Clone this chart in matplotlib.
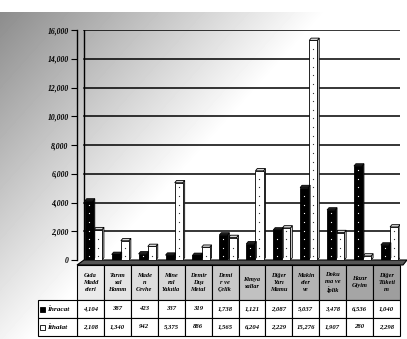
import numpy as np
import matplotlib.pyplot as plt
from matplotlib.patches import Rectangle, Polygon

# ── data ────────────────────────────────────────────────────────────────────
categories = ['Gıda\nMadd\neleri', 'Tarım\nsal\nHamm', 'Made\nn\nCevhe',
              'Mine\nral\nYakıtla', 'Demir\nDışı\nMetal', 'Demi\nr ve\nÇelik',
              'Kimya\nsallar', 'Diğer\nYarı\nMamu', 'Makin\neler\nve',
              'Doku\nma ve\nİplik', 'Hazır\nGiyim', 'Diğer\nTüketi\nm']
ihracat = [4104, 387, 423, 337, 319, 1738, 1121, 2087, 5037, 3478, 6536, 1040]
ithalat = [2108, 1340, 942, 5375, 886, 1565, 6204, 2229, 15276, 1907, 280, 2298]
series_names = ['İhracat', 'İthalat']
yticks = [0, 2000, 4000, 6000, 8000, 10000, 12000, 14000, 16000]

W, H = 407, 339
FONT = 'Liberation Serif'

fig = plt.figure(figsize=(W / 100, H / 100), dpi=100)

# ── background (pixel coords) ───────────────────────────────────────────────
bg = fig.add_axes([0, 0, 1, 1], zorder=0)
bg.set_xlim(0, W)
bg.set_ylim(H, 0)
bg.axis('off')
yy, xx = np.mgrid[0:H, 0:W]
shade = 0.55 + 0.45 * np.clip(xx / W * 1.25 + (yy - 12) / (H - 12) * 0.9, 0, 1)
shade[yy < 12] = 1.0
bg.imshow(shade, cmap='gray', vmin=0, vmax=1, extent=(0, W, H, 0), aspect='auto')

# plot area geometry in pixels
x0, x1 = 77, 400
ybase, ytop = 260, 30

# floor strip
bg.add_patch(Polygon([(x0, ybase + 5), (x1 + 3, ybase + 5), (x1 + 7, ybase), (x0 + 7, ybase)],
                     closed=True, facecolor='#555555', edgecolor='black', lw=0.8))

# ── main axes ───────────────────────────────────────────────────────────────
ax = fig.add_axes([x0 / W, 1 - ybase / H, (x1 - x0) / W, (ybase - ytop) / H], zorder=1)
ax.set_facecolor('none')
ax.set_xlim(-0.5, len(categories) - 0.5)
ax.set_ylim(0, 16000)
for s in ['top', 'right', 'bottom']:
    ax.spines[s].set_visible(False)
ax.spines['left'].set_linewidth(1.0)
ax.set_xticks([])
ax.set_yticks(yticks)
ax.set_yticklabels([f'{v:,}' for v in yticks])
ax.tick_params(axis='y', length=4, width=0.8, labelsize=5.5, pad=2)
for lab in ax.get_yticklabels():
    lab.set_fontfamily(FONT)
    lab.set_fontweight('bold')
    lab.set_fontstyle('italic')

# back wall line and gridlines
back = 0.26 - 0.5
ax.axvline(back, color='black', lw=1.0, zorder=1)
for v in yticks[1:]:
    ax.plot([back, len(categories) - 0.35], [v, v], color='black', lw=1.1, zorder=1)

x = np.arange(len(categories))
bw = 0.3
dx, dy = 0.07, 160


def bar3d(xc, h, face, side, dots):
    left, right = xc - bw / 2, xc + bw / 2
    ax.add_patch(Polygon([(right, 0), (right + dx, dy), (right + dx, h + dy), (right, h)],
                         closed=True, facecolor=side, edgecolor='black', lw=0.6, zorder=3))
    ax.add_patch(Polygon([(left, h), (left + dx, h + dy), (right + dx, h + dy), (right, h)],
                         closed=True, facecolor=side, edgecolor='black', lw=0.6, zorder=3))
    ax.bar(xc, h, width=bw, color=face, edgecolor='black', lw=0.6, zorder=3)
    # small dot pattern down the middle of each bar
    ys = np.arange(250, h - 150, 600)
    ax.scatter(np.full(len(ys), xc), ys, s=0.8, color=dots, lw=0, zorder=4)


for i in range(len(categories)):
    bar3d(x[i] + 0.28, ithalat[i], 'white', '#d8d8d8', '#333333')
    bar3d(x[i] - 0.06, ihracat[i], 'black', '#222222', 'white')

# ── data table (pixel coords) ───────────────────────────────────────────────
n = len(categories)
cw = (x1 - x0) / n
hy0, hy1 = 265, 300
r1, r2, r3 = 300, 318, 336
lab_x = 38
head_cols = plt.cm.gray(np.linspace(0.92, 0.62, n))
txt = dict(family=FONT, fontweight='bold', fontstyle='italic', ha='center', va='center')
for i in range(n):
    cx = x0 + i * cw
    bg.add_patch(Rectangle((cx, hy0), cw, hy1 - hy0, facecolor=head_cols[i],
                           edgecolor='black', lw=0.8))
    bg.text(cx + cw / 2, (hy0 + hy1) / 2, categories[i], fontsize=4.6,
            linespacing=1.5, **txt)
    for (ya, yb), vals in zip([(r1, r2), (r2, r3)], [ihracat, ithalat]):
        bg.add_patch(Rectangle((cx, ya), cw, yb - ya, facecolor='white',
                               edgecolor='black', lw=0.8))
        bg.text(cx + cw / 2, (ya + yb) / 2, f'{vals[i]:,}', fontsize=4.8, **txt)

for (ya, yb), name, fc in zip([(r1, r2), (r2, r3)], series_names, ['black', 'white']):
    bg.add_patch(Rectangle((lab_x, ya), x0 - lab_x, yb - ya, facecolor='white',
                           edgecolor='black', lw=0.8))
    bg.add_patch(Rectangle((lab_x + 2, (ya + yb) / 2 - 2), 5, 5, facecolor=fc,
                           edgecolor='black', lw=0.6))
    bg.text(lab_x + 9, (ya + yb) / 2, name, fontsize=5.2,
            **{**txt, 'ha': 'left'})

fig.savefig('out.png', dpi=100)
